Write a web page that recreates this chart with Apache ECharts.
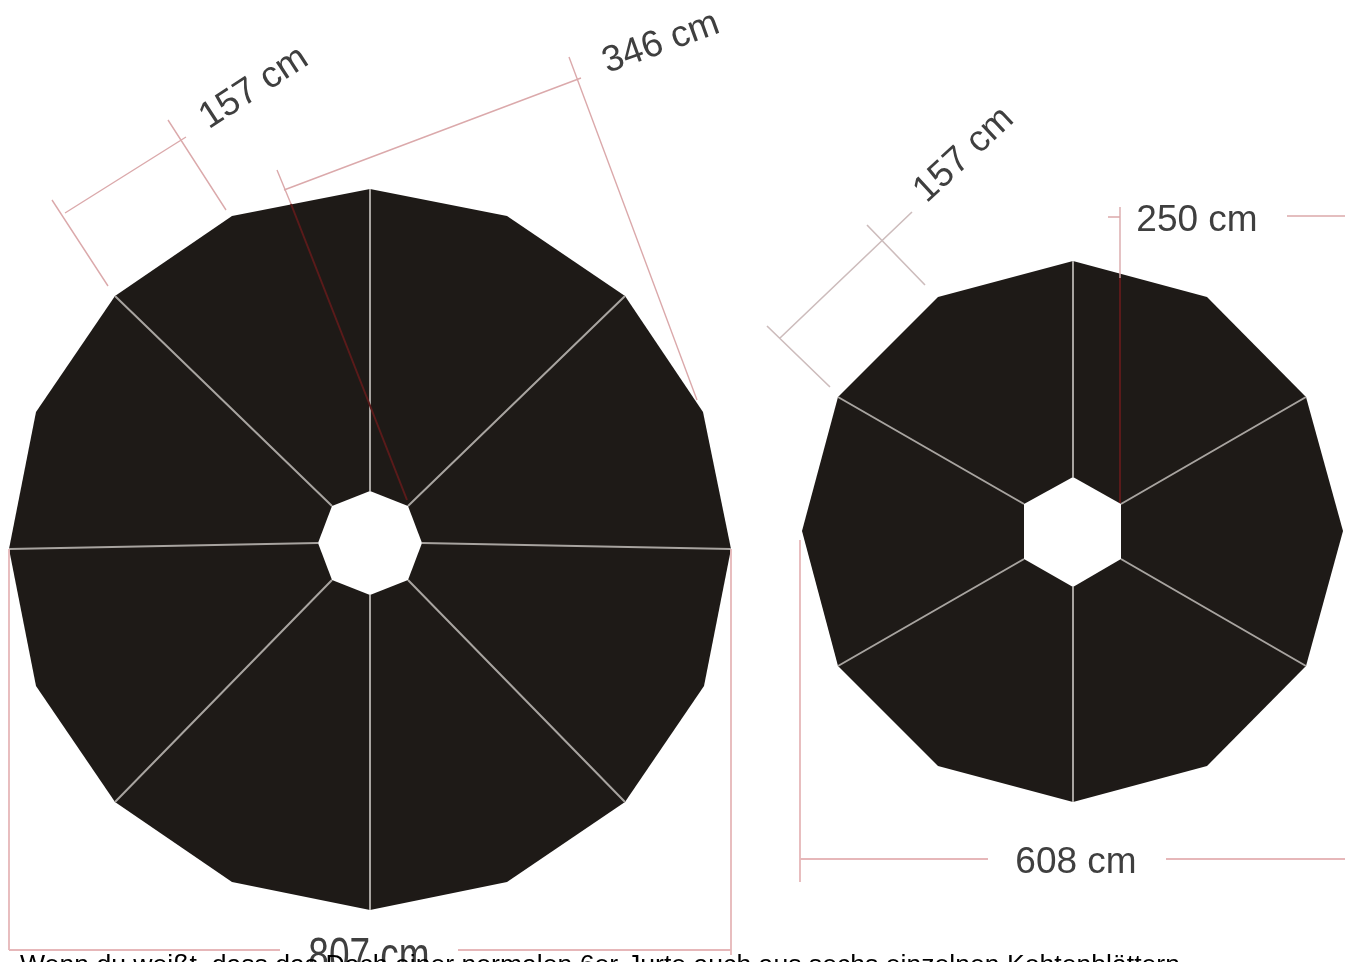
<!DOCTYPE html>
<html>
<head>
<meta charset="utf-8">
<style>html,body{margin:0;padding:0;background:#fff;overflow:hidden}#c{width:1345px;height:962px;filter:blur(0.5px)}</style>
<script src="https://cdn.jsdelivr.net/npm/echarts@6/dist/echarts.min.js"></script>
</head>
<body>
<div id="c"></div>
<script>
// Shape outlines (axis units)
const largeOuter = [[370,189],[507,216],[625,296],[703,412],[731,549],[704,686],[625,802],[507,882],[370,910],[232,882],[115,802],[36,686],[9,549],[36,412],[115,296],[232,216]];
const largeHole = [[370,491],[408,506],[422,543],[408,580],[370,595],[332,580],[318,543],[332,506]];
const smallOuter = [[1073,261],[1207,297],[1306,397],[1343,531],[1306,666],[1207,766],[1073,802],[938,766],[838,666],[802,531],[838,397],[938,297]];
const smallHole = [[1073,477],[1121,504],[1121,559],[1073,587],[1024,559],[1024,504]];
// Ribs
const largeRibs = [[[370,189],[370,491]],[[625,296],[408,506]],[[731,549],[422,543]],[[625,802],[408,580]],[[370,910],[370,595]],[[115,802],[332,580]],[[9,549],[318,543]],[[115,296],[332,506]]];
const smallRibs = [[[1073,261],[1073,477]],[[1306,397],[1121,504]],[[1306,666],[1121,559]],[[1073,802],[1073,587]],[[838,666],[1024,559]],[[838,397],[1024,504]]];
// Dimension lines
const pinkLines = [[[52,200],[108,286]],[[65,213],[186,137]],[[168,120],[226,210]],[[277,170],[291,204]],[[284,190],[581,78]],[[569,57],[697,400]],[[1120,207],[1120,278]],[[1108,217],[1120,217]],[[1287,216],[1345,216]]];
const softPinkLines = [[[9,549],[9,950]],[[731,549],[731,955]],[[9,950],[280,950]],[[458,950],[731,950]],[[800,540],[800,882]],[[800,859],[988,859]],[[1166,859],[1345,859]]];
const greyLines = [[[767,326],[830,387]],[[780,338],[912,212]],[[867,225],[925,285]]];
const darkRedLines = [[[291,204],[407,500]],[[1120,278],[1120,503]]];
// Texts
const dimLabels = ['157 cm','346 cm','157 cm','250 cm','608 cm','807 cm'];
const caption = 'Wenn du weißt, dass das Dach einer normalen 6er-Jurte auch aus sechs einzelnen Kohtenblättern';

const labelAnchors = [[254,88],[661,43],[964,155],[1197,221],[1076,863],[369,958]];
const labelAngles = [33,20,43,0,0,0];
const labelScaleY = [1,1,1,1,1,1.3];

function flatten(segs){const out=[];segs.forEach((s,i)=>{if(i)out.push([null,null]);out.push(s[0],s[1]);});return out;}
function lineSeries(segs,color,width,z){return {type:'line',data:flatten(segs),connectNulls:false,showSymbol:false,symbol:'none',silent:true,clip:false,z:z,lineStyle:{color:color,width:width},animation:false};}
function polySeries(pts,color,z){return {type:'custom',coordinateSystem:'cartesian2d',silent:true,clip:false,z:z,animation:false,data:pts,encode:{x:0,y:1},
  renderItem:function(p,api){ if(p.dataIndex!==0) return null;
    return {type:'polygon',shape:{points:pts.map(q=>api.coord(q))},style:{fill:color}};}};}
function textSeries(){return {type:'custom',coordinateSystem:'cartesian2d',silent:true,clip:false,z:20,animation:false,
  data:labelAnchors.map((a,i)=>[a[0],a[1],i]),encode:{x:0,y:1},
  renderItem:function(p,api){const i=api.value(2),c=api.coord([api.value(0),api.value(1)]);
    return {type:'text',x:c[0],y:c[1],rotation:labelAngles[i]*Math.PI/180,scaleY:labelScaleY[i],
      style:{text:dimLabels[i],fill:'#3f3f3f',font:'37px "Liberation Sans"',align:'center',verticalAlign:'middle'}};}};}
function captionSeries(){return {type:'custom',coordinateSystem:'cartesian2d',silent:true,clip:false,z:30,animation:false,
  data:[[20,952]],encode:{x:0,y:1},
  renderItem:function(p,api){const c=api.coord([api.value(0),api.value(1)]);
    return {type:'text',x:c[0],y:c[1],style:{text:caption,fill:'#000',font:'26.6px "Liberation Sans"',align:'left',verticalAlign:'top'}};}};}

const chart = echarts.init(document.getElementById('c'),null,{renderer:'canvas'});
chart.setOption({
  animation:false,backgroundColor:'#ffffff',
  grid:{left:0,right:0,top:0,bottom:0,containLabel:false},
  xAxis:{type:'value',min:0,max:1345,show:false},
  yAxis:{type:'value',min:0,max:962,inverse:true,show:false},
  tooltip:{show:false},
  series:[
    polySeries(largeOuter,'#1e1a17',3),
    polySeries(smallOuter,'#1e1a17',3),
    lineSeries(largeRibs,'#a8a4a0',2,4),
    lineSeries(smallRibs,'#a8a4a0',2,4),
    polySeries(largeHole,'#ffffff',5),
    polySeries(smallHole,'#ffffff',5),
    lineSeries(pinkLines,'#dba9ab',1.4,6),
    lineSeries(softPinkLines,'#e6b7b9',1.8,6),
    lineSeries(greyLines,'#cdbcbc',1.6,6),
    lineSeries(darkRedLines,'#5a1a1a',2,6),
    textSeries(),
    captionSeries()
  ]
});
</script>
</body>
</html>
